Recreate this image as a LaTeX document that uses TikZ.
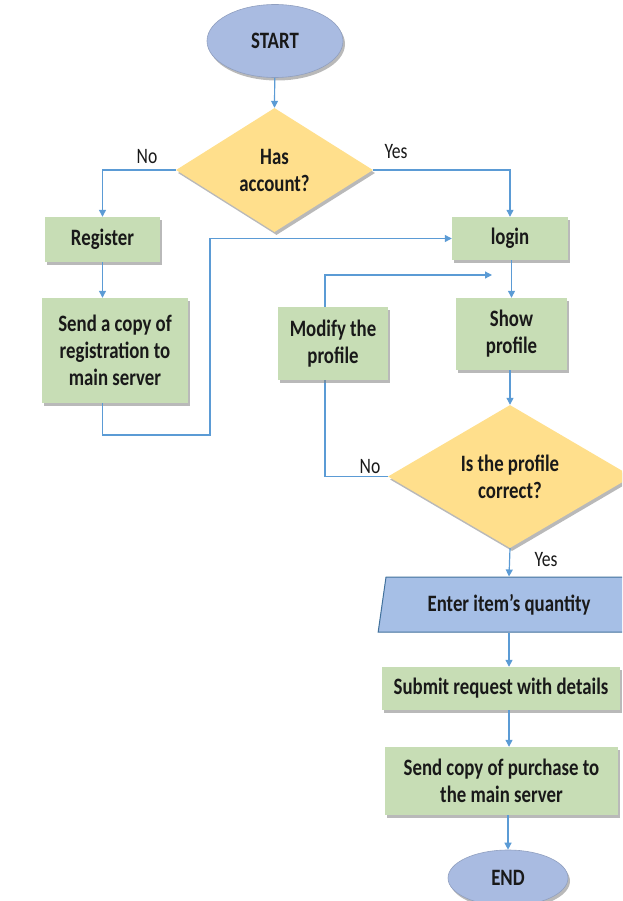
\documentclass[tikz,border=0pt]{standalone}
\usepackage{fontspec}
\setmainfont{Carlito}[FakeStretch=0.8]
\usetikzlibrary{shapes.geometric,shadows,arrows.meta,backgrounds}
\definecolor{lineblue}{HTML}{5B9BD5}
\definecolor{boxgreen}{HTML}{C7DDB5}
\definecolor{dgold}{HTML}{FFDF8C}
\definecolor{ellblue}{HTML}{A9BBE1}
\definecolor{parblue}{HTML}{A6BFE6}
\definecolor{parborder}{HTML}{41719C}
\begin{document}
\begin{tikzpicture}[x=1pt,y=-1pt,
  every node/.style={font=\bfseries\fontsize{23.5}{27}\selectfont, align=center, inner sep=0pt, text=black!90},
  shade/.style={drop shadow={shadow xshift=2pt, shadow yshift=-3pt, fill=black!50, opacity=0.55}},
  procbox/.style={rectangle, fill=boxgreen, shade},
  decision/.style={diamond, fill=dgold, shade},
  terminal/.style={ellipse, fill=ellblue, draw=ellblue!85!black, line width=0.6pt, shade},
  iobox/.style={trapezium, trapezium left angle=76, trapezium right angle=104, trapezium stretches=true, fill=parblue, draw=parborder, line width=1pt},
  flow/.style={draw=lineblue, line width=1.2pt, -{Triangle[width=7pt,length=7pt]}},
  lbl/.style={font=\fontsize{22}{24}\selectfont}
]
\useasboundingbox (0,0) rectangle (622,901);
\begin{scope}
\clip (0,0) rectangle (622,901);
\node[terminal, minimum width=136, minimum height=73] (start) at (275,41) {START};
\node[decision, minimum width=197, minimum height=124] (d1) at (274.5,170) {Has\\account?};
\node[procbox, minimum width=115, minimum height=45] (reg) at (102.5,239.5) {Register};
\node[procbox, minimum width=146, minimum height=105] (sendreg) at (115,350.5) {Send a copy of\\registration to\\main server};
\node[procbox, minimum width=116, minimum height=43] (login) at (510,238.5) {login};
\node[procbox, minimum width=111, minimum height=72] (show) at (511.5,334) {Show\\profile};
\node[procbox, minimum width=110, minimum height=73] (modify) at (333,343.5) {Modify the\\profile};
\node[decision, minimum width=244, minimum height=143] (d2) at (510,476.5) {Is the profile\\correct?};
\node[iobox, minimum width=262, minimum height=55] (enter) at (509,604.5) {Enter item’s quantity};
\node[procbox, minimum width=238, minimum height=43] (submit) at (501,688.5) {Submit request with details};
\node[procbox, minimum width=233, minimum height=68] (sendcopy) at (501.5,781) {Send copy of purchase to\\the main server};
\node[terminal, minimum width=120, minimum height=56] (end) at (508,878) {END};

\node[lbl] (no1) at (147,157) {No};
\node[lbl] (yes1) at (396,152) {Yes};
\node[lbl] (no2) at (370,467) {No};
\node[lbl] (yes2) at (546,560) {Yes};

\coordinate (j1) at (210,435);
\coordinate (m1) at (325,275);
\coordinate (m2) at (492,275);

\begin{scope}[on background layer]
\draw[flow] (d2.west) -| (m1) -- (m2);
\end{scope}

\draw[flow] (start) -- (d1.north);
\draw[flow] (d1.west) -| (reg.north);
\draw[flow] (d1.east) -| (login.north);
\draw[flow] (reg.south) -- (reg.south |- sendreg.north);
\draw[flow] (reg.south |- sendreg.south) |- (j1) |- (login.west);
\draw[flow] (login.south -| show.north) -- (show.north);
\draw[flow] (show.south -| d2.north) -- (d2.north);
\draw[flow] (d2.south) -- (enter.north);
\draw[flow] (enter.south) -- (enter.south |- submit.north);
\draw[flow] (enter.south |- submit.south) -- (enter.south |- sendcopy.north);
\draw[flow] (end.north |- sendcopy.south) -- (end.north);
\end{scope}
\end{tikzpicture}
\end{document}
